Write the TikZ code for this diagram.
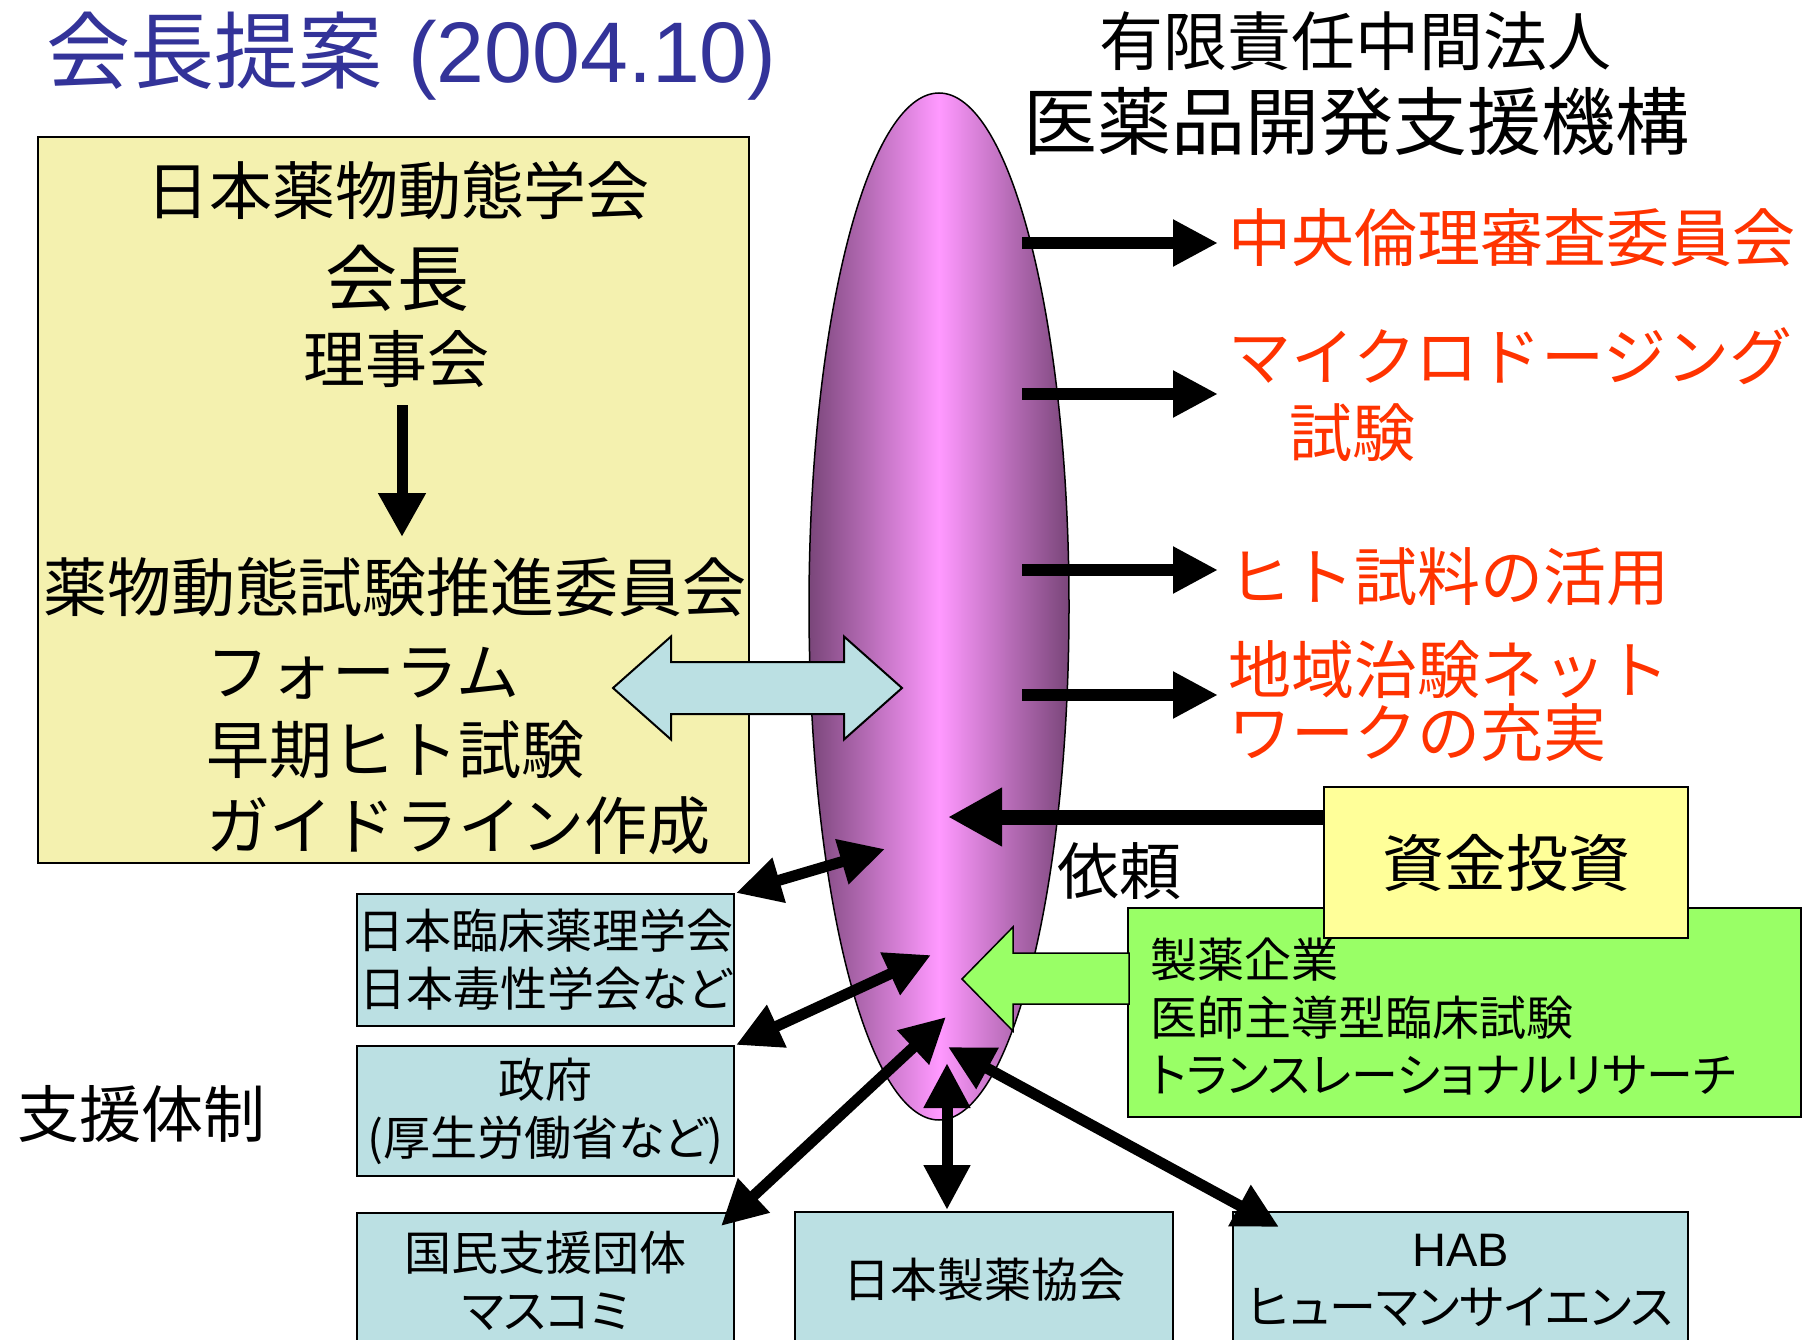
\documentclass[tikz,border=0pt]{standalone}
\usepackage{fontspec}
\setmainfont{Noto Sans CJK JP}
\newfontfamily\pjp[RawFeature=+palt]{Noto Sans CJK JP}
\newfontfamily\lat{Liberation Sans}
\usetikzlibrary{arrows.meta,shapes.geometric}
\definecolor{titleblue}{HTML}{333399}
\definecolor{khaki}{HTML}{F4F1AF}
\definecolor{lightyel}{HTML}{FFFF99}
\definecolor{boxblue}{HTML}{BBE0E3}
\definecolor{limegreen}{HTML}{99FF66}
\definecolor{redtext}{HTML}{FF3300}
\definecolor{ellpink}{HTML}{FF99FF}
\definecolor{elldark}{HTML}{7A467A}
\newcommand\fsz[2]{\fontsize{#1}{#2}\selectfont}
\tikzset{
  txt/.style={inner sep=0pt},
  redtxt/.style={inner sep=0pt, anchor=west, text=redtext, font=\fsz{63}{70}},
  bluebox/.style={draw, line width=1.5pt, fill=boxblue, inner sep=0pt, align=center, font=\fsz{47}{58}\pjp},
  rarrow/.style={line width=12pt, -{Triangle[length=45pt,width=44pt]}},
  dblarrow/.style={line width=11pt, {Triangle[length=45pt,width=44pt]}-{Triangle[length=45pt,width=44pt]}},
}
\begin{document}
\begin{tikzpicture}[x=1pt,y=-1pt]
\useasboundingbox (0,0) rectangle (1816,1340);
\fill[white] (0,0) rectangle (1816,1340);
\clip (0,0) rectangle (1816,1340);

% titles
\node[txt, anchor=west, text=titleblue, font=\fsz{84}{96}] (title) at (46,56) {会長提案\hspace{26pt}{\lat\fsz{86}{96}(2004.10)}};
\node[txt, font=\fsz{64}{72}] (org1) at (1355,41) {有限責任中間法人};
\node[txt, font=\fsz{74}{82}] (org2) at (1356,122) {医薬品開発支援機構};

% yellow society box
\node[draw, line width=1.5pt, fill=khaki, minimum width=711pt, minimum height=726pt, inner sep=0pt] (ybox) at (393.5,500) {};
\node[txt, font=\fsz{63}{70}] (soc) at (398,191) {日本薬物動態学会};
\node[txt, font=\fsz{72}{80}] (pres) at (397,278) {会長};
\node[txt, font=\fsz{62}{70}] (board) at (396,359) {理事会};
\node[txt, font=\fsz{64}{70}] (comm) at (395,587) {薬物動態試験推進委員会};
\node[txt, anchor=west, font=\fsz{63}{70}] (forum) at (206,673) {フォーラム};
\node[txt, anchor=west, font=\fsz{63}{70}] (early) at (206,750) {早期ヒト試験};
\node[txt, anchor=west, font=\fsz{63}{70}] (guide) at (206,826) {ガイドライン作成};
\coordinate (ds) at (402,405);
\coordinate (de) at (402,537);
\draw[line width=11pt, -{Triangle[length=44pt,width=45pt]}] (ds) -- (de);

% ellipse
\node[ellipse, draw, line width=1.5pt, minimum width=260pt, minimum height=1027pt, inner sep=0pt,
      left color=elldark, right color=elldark, middle color=ellpink] (ell) at (939,606.5) {};

% right arrows
\coordinate (r1s) at (1022,243); \coordinate (r1e) at (1218,243);
\coordinate (r2s) at (1022,394); \coordinate (r2e) at (1218,394);
\coordinate (r3s) at (1022,570); \coordinate (r3e) at (1218,570);
\coordinate (r4s) at (1022,695); \coordinate (r4e) at (1218,695);
\draw[rarrow] (r1s) -- (r1e);
\draw[rarrow] (r2s) -- (r2e);
\draw[rarrow] (r3s) -- (r3e);
\draw[rarrow] (r4s) -- (r4e);

% red texts
\node[redtxt] (ethics) at (1228,238) {中央倫理審査委員会};
\node[redtxt] (micro) at (1228,356) {マイクロドージング};
\node[txt, text=redtext, font=\fsz{63}{70}] (microb) at (1352,433) {試験};
\node[redtxt] (human) at (1228,577) {ヒト試料の活用};
\node[redtxt] (net1) at (1228,670) {地域治験ネット};
\node[redtxt] (net2) at (1228,733) {ワークの充実};

% light blue double block arrow
\draw[line width=2pt, fill=boxblue, line join=miter]
  (613,688) -- (671,636.5) -- (671,662) -- (844,662) -- (844,636.5) -- (902,688)
  -- (844,739.5) -- (844,714) -- (671,714) -- (671,739.5) -- cycle;

% green box and arrow
\node[draw, line width=1.5pt, fill=limegreen, minimum width=673pt, minimum height=209pt, inner sep=0pt] (gbox) at (1464.5,1012.5) {};
\draw[line width=1.5pt, fill=limegreen] (962,979) -- (1013,927) -- (1013,953) -- (1129,953)
  -- (1129,1004) -- (1013,1004) -- (1013,1031) -- cycle;
\node[txt, anchor=west, align=left, font=\fsz{47}{57.5}\pjp] (pharma) at (1150,1016.5)
  {製薬企業\\医師主導型臨床試験\\トランスレーショナルリサーチ};

% funding box and arrow
\node[draw, line width=1.5pt, fill=lightyel, minimum width=364pt, minimum height=151pt, inner sep=0pt,
      font=\fsz{62}{70}] (fund) at (1506,862.5) {資金投資};
\coordinate (fs) at (1324,817);
\coordinate (fe) at (948,817);
\draw[line width=15pt, -{Triangle[length=54pt,width=55pt]}] (fs) -- (fe);
\node[txt, font=\fsz{62}{70}] (req) at (1119,871) {依頼};

% support boxes
\node[bluebox, minimum width=377pt, minimum height=132pt] (bA) at (545.5,960) {日本臨床薬理学会\\日本毒性学会など};
\node[bluebox, minimum width=377pt, minimum height=130pt] (bB) at (545.5,1111) {政府\\(厚生労働省など)};
\node[bluebox, minimum width=377pt, minimum height=135pt] (bC) at (545.5,1280.5) {国民支援団体\\マスコミ};
\node[bluebox, minimum width=378pt, minimum height=136pt] (bD) at (984,1280) {日本製薬協会};
\node[bluebox, minimum width=455pt, minimum height=136pt] (bE) at (1460.5,1280) {{\lat HAB}\\ヒューマンサイエンス};
\node[txt, font=\fsz{62}{70}] (support) at (141,1114) {支援体制};

% double arrows
\coordinate (aS) at (885,849);  \coordinate (aE) at (736,893);
\coordinate (bS) at (931,955);  \coordinate (bE) at (736,1045);
\coordinate (cS) at (946,1017); \coordinate (cE) at (721,1226);
\coordinate (dS) at (947,1063); \coordinate (dE) at (947,1210);
\coordinate (eS) at (948,1047); \coordinate (eE) at (1279,1227);
\draw[dblarrow] (aS) -- (aE);
\draw[dblarrow] (bS) -- (bE);
\draw[dblarrow] (cS) -- (cE);
\draw[dblarrow] (dS) -- (dE);
\draw[dblarrow] (eS) -- (eE);
\end{tikzpicture}
\end{document}
